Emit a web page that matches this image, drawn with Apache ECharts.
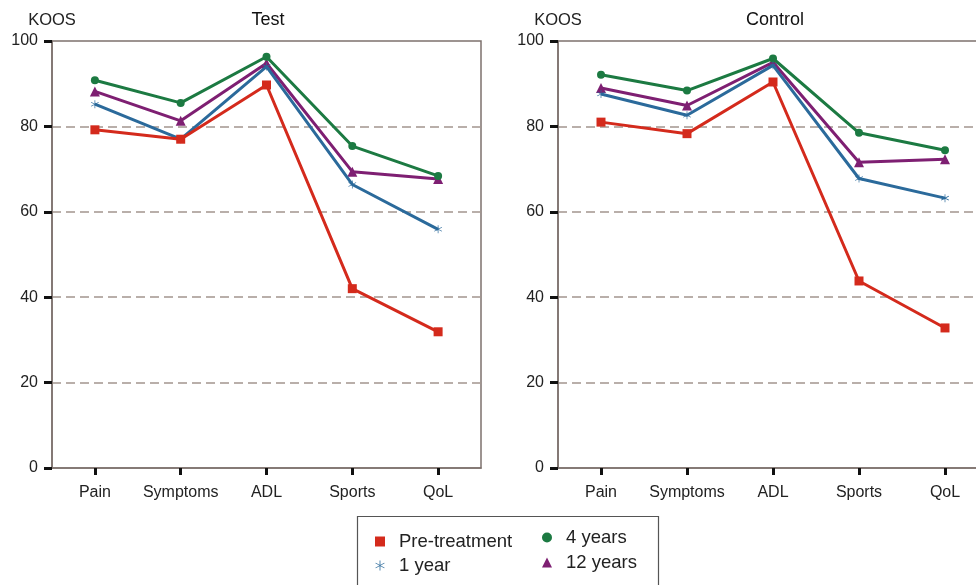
<!DOCTYPE html>
<html><head><meta charset="utf-8">
<script src="https://cdn.jsdelivr.net/npm/echarts@6/dist/echarts.min.js"></script>
<style>html,body{margin:0;padding:0;background:#fff}#c{width:976px;height:585px}</style>
</head><body><div id="c"></div>
<script>
var categories = ['Pain', 'Symptoms', 'ADL', 'Sports', 'QoL'];
var seriesNames = ['Pre-treatment', '1 year', '4 years', '12 years'];
var panelTitles = ['Test', 'Control'];
var yTicks = [0, 20, 40, 60, 80, 100];

var testPre = [79.2, 77.0, 89.7, 42.0, 31.9];
var test1y = [85.2, 77.0, 94.0, 66.4, 55.9];
var test4y = [90.8, 85.5, 96.3, 75.4, 68.4];
var test12y = [88.2, 81.3, 94.8, 69.4, 67.7];

var ctrlPre = [81.0, 78.3, 90.4, 43.8, 32.8];
var ctrl1y = [87.6, 82.6, 94.3, 67.8, 63.2];
var ctrl4y = [92.1, 88.4, 95.9, 78.5, 74.4];
var ctrl12y = [89.0, 84.9, 95.0, 71.6, 72.3];

var colors = ['#d42a1c', '#2b6a9b', '#1c7a42', '#7e1f72'];
var asterisk = 'path://M9.2,0L10.8,0L10.8,20L9.2,20Z M18.46,4.31L19.26,5.69L1.54,15.69L0.74,14.31Z M0.74,5.69L1.54,4.31L19.26,14.31L18.46,15.69Z';
var symbols = ['rect', asterisk, 'circle', 'triangle'];
var symbolSizes = [9, 8, 8, 10];

var font = 'Liberation Sans, Arial, sans-serif';
var axisColor = '#7d716d';
var gridColor = '#a3958f';

var grids = [
  {left: 52, top: 41, width: 429, height: 427, show: true, borderColor: axisColor, borderWidth: 1.5,
   outerBoundsMode: 'none', containLabel: false},
  {left: 558, top: 41, width: 430, height: 427, show: true, borderColor: axisColor, borderWidth: 1.5,
   outerBoundsMode: 'none', containLabel: false}
];

function xAx(i) {
  return {
    type: 'category', gridIndex: i, data: categories, boundaryGap: true,
    axisLine: {lineStyle: {color: axisColor, width: 1.5}},
    axisTick: {show: true, alignWithLabel: true, length: 7, lineStyle: {color: '#111', width: 3}},
    axisLabel: {color: '#222', fontSize: 16, fontFamily: font, margin: 17, interval: 0},
    splitLine: {show: false}
  };
}
function yAx(i) {
  return {
    type: 'value', gridIndex: i, min: 0, max: 100, interval: 20,
    name: 'KOOS', nameLocation: 'end', nameGap: 12,
    nameTextStyle: {color: '#222', fontSize: 16.5, fontFamily: font},
    axisLine: {show: true, lineStyle: {color: axisColor, width: 1.5}},
    axisTick: {show: true, length: 8, lineStyle: {color: '#111', width: 3}},
    axisLabel: {color: '#222', fontSize: 16, fontFamily: font, margin: 14,
      formatter: function (v) { return yTicks.indexOf(v) >= 0 ? String(v) : ''; }},
    splitLine: {show: true, showMinLine: false, showMaxLine: false,
      lineStyle: {color: gridColor, width: 1.5, type: [9, 5]}}
  };
}

var panelData = [[testPre, test1y, test4y, test12y], [ctrlPre, ctrl1y, ctrl4y, ctrl12y]];
var series = [];
panelData.forEach(function (set, p) {
  set.forEach(function (vals, k) {
    series.push({
      name: seriesNames[k], type: 'line', xAxisIndex: p, yAxisIndex: p,
      data: vals, symbol: symbols[k], symbolSize: symbolSizes[k],
      itemStyle: {color: colors[k]},
      lineStyle: {color: colors[k], width: 3},
      z: 10 - k
    });
  });
});

function legendItem(k) { return {name: seriesNames[k], icon: symbols[k]}; }

var chart = echarts.init(document.getElementById('c'), null, {renderer: 'canvas'});
chart.setOption({
  backgroundColor: '#fff',
  animation: false,
  title: [
    {text: panelTitles[0], left: 268, top: 11, textAlign: 'center', padding: 0,
     textStyle: {color: '#111', fontSize: 18, fontWeight: 'normal', fontFamily: font}},
    {text: panelTitles[1], left: 775, top: 11, textAlign: 'center', padding: 0,
     textStyle: {color: '#111', fontSize: 18, fontWeight: 'normal', fontFamily: font}}
  ],
  grid: grids,
  xAxis: [xAx(0), xAx(1)],
  yAxis: [yAx(0), yAx(1)],
  legend: [
    {orient: 'vertical', left: 375, top: 532, padding: 0, itemGap: 5, itemWidth: 10, itemHeight: 10,
     data: [legendItem(0), legendItem(1)],
     textStyle: {color: '#222', fontSize: 18.5, fontFamily: font, padding: [0, 0, 0, 9]}},
    {orient: 'vertical', left: 542, top: 528, padding: 0, itemGap: 6, itemWidth: 10, itemHeight: 10,
     data: [legendItem(2), legendItem(3)],
     textStyle: {color: '#222', fontSize: 18.5, fontFamily: font, padding: [0, 0, 0, 9]}}
  ],
  graphic: [
    {type: 'rect', shape: {x: 357.5, y: 516.5, width: 301, height: 80},
     style: {fill: 'none', stroke: '#555', lineWidth: 1.2}, silent: true}
  ],
  series: series
});
</script></body></html>
